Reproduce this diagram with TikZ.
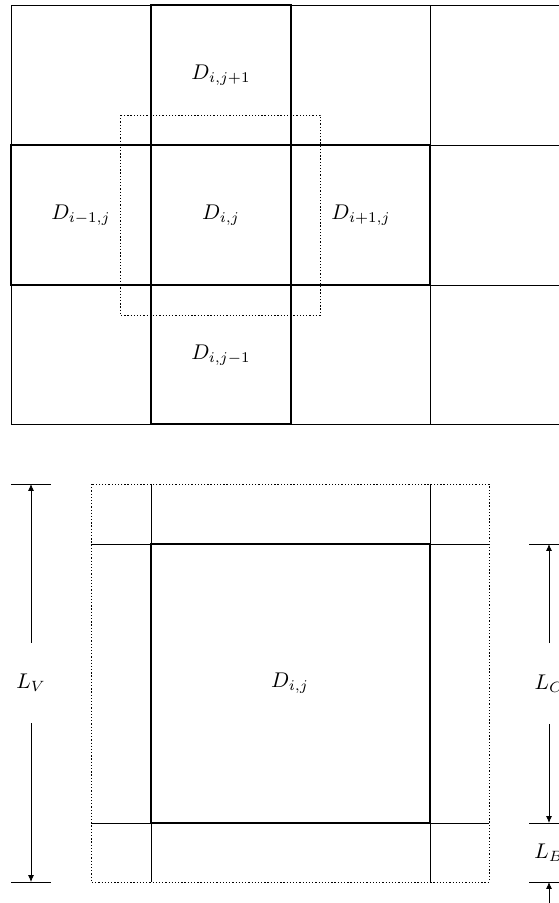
\documentclass[tikz,border=0pt]{standalone}
\usetikzlibrary{arrows.meta}
\begin{document}
\begin{tikzpicture}[x=0.47pt,y=-0.47pt,
  thinline/.style={line width=0.4pt},
  thickline/.style={line width=0.85pt},
  dotline/.style={line width=0.4pt, dash pattern=on 0.6pt off 0.9pt},
  dimarrow/.style={line width=0.4pt,-{Latex[length=3.2pt,width=2.8pt]}},
  lbl/.style={inner sep=0pt},
  dimlbl/.style={inner sep=0pt, minimum height=37.6pt}]
\useasboundingbox (0,0) rectangle (559,903);

% ---- top grid ----
\foreach \y in {5,145,285,424} \draw[thinline] (11,\y) -- (620,\y);
\foreach \x in {11,151,291,430} \draw[thinline] (\x,5) -- (\x,424);
\draw[thickline] (151,145) rectangle (291,285);
\draw[thickline] (151,5) rectangle (291,145);
\draw[thickline] (151,285) rectangle (291,424);
\draw[thickline] (11,145) rectangle (151,285);
\draw[thickline] (291,145) rectangle (430,285);
\draw[dotline] (120,115) rectangle (320,315);

\node[lbl] (dt) at (221,75) {$D_{i,j+1}$};
\node[lbl] (dl) at (81,215) {$D_{i-1,j}$};
\node[lbl] (dc) at (221,215) {$D_{i,j}$};
\node[lbl] (dr) at (361,215) {$D_{i+1,j}$};
\node[lbl] (db) at (221,355) {$D_{i,j-1}$};

% ---- bottom detail ----
\draw[dotline] (91,484) rectangle (489,882);
\draw[thinline] (91,544) -- (489,544);
\draw[thinline] (91,823) -- (489,823);
\draw[thinline] (151,484) -- (151,882);
\draw[thinline] (430,484) -- (430,882);
\draw[thickline] (151,544) rectangle (430,823);
\node[lbl] (dd) at (290,683.5) {$D_{i,j}$};

% left dimension
\coordinate (vt) at (31,484);
\coordinate (vb) at (31,882);
\draw[thinline] (11,484) -- (51,484);
\draw[thinline] (11,882) -- (51,882);
\node[dimlbl] (LV) at (31,683) {$L_V$};
\draw[dimarrow] (LV.north) -- (vt);
\draw[dimarrow] (LV.south) -- (vb);

% right dimensions
\coordinate (ct) at (549,544);
\coordinate (cb) at (549,823);
\coordinate (bb) at (549,882);
\coordinate (bext) at (549,930);
\draw[thinline] (529,544) -- (569,544);
\draw[thinline] (529,823) -- (569,823);
\draw[thinline] (529,882) -- (569,882);
\node[dimlbl] (LC) at (549,683.5) {$L_C$};
\draw[dimarrow] (LC.north) -- (ct);
\draw[dimarrow] (LC.south) -- (cb);
\node[lbl] (LB) at (549,852.5) {$L_B$};
\draw[dimarrow] (bext) -- (bb);
\end{tikzpicture}
\end{document}
